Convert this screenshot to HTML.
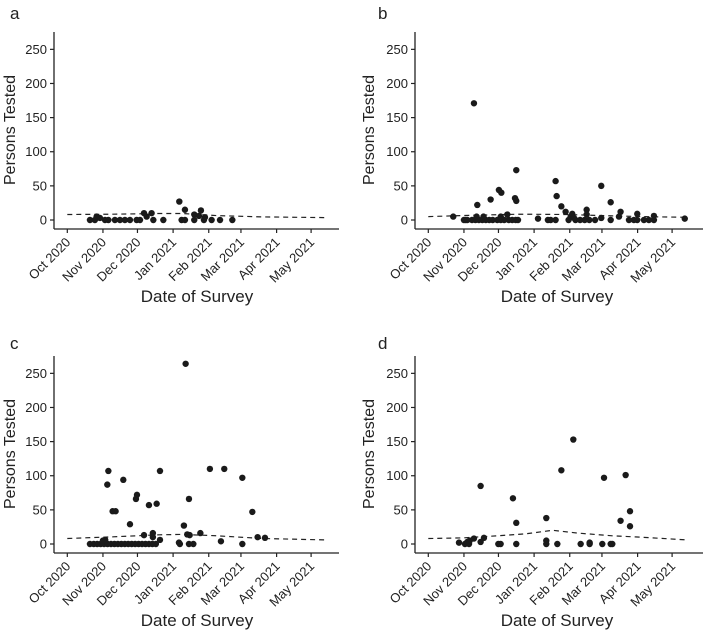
<!DOCTYPE html>
<html><head><meta charset="utf-8"><style>
html,body{margin:0;padding:0;background:#fff;}
svg{display:block;font-family:"Liberation Sans",sans-serif;}
</style></head><body>
<svg id="chart" width="703" height="631" viewBox="0 0 703 631" xmlns="http://www.w3.org/2000/svg"></svg>
<script>
// days since 1 Oct 2020
const monthLabels = ["Oct 2020","Nov 2020","Dec 2020","Jan 2021","Feb 2021","Mar 2021","Apr 2021","May 2021"];
const monthDays = [0,31,61,92,123,151,182,212];
const yTicks = [0,50,100,150,200,250];

const aDays = [19.7,24,25.5,28.4,32.8,35.7,41.4,45.8,50.1,54.5,60.3,63.2,66.7,69,73.3,74.8,83.5,97.4,99.4,102.3,102.3,110.4,110.4,114.5,116.2,118.8,119.7,125.5,132.8,143.5];
const aVals = [0,0,5,3,0,0,0,0,0,0,0,0,10,5,10,0,0,27,0,15,0,8,0,6,14,0,4,0,0,0];
const aTrendDays = [0,40,80,100,130,170,224];
const aTrendVals = [8,8.5,9.5,9.5,6.5,4.5,3.5];

const bDays = [21.7,31,32.5,33.9,39.7,42.6,38,41,44,47,50,53,56,60,63,66,70,73,76,78,42,48,63,68.7,54.2,61.4,63.5,75.4,76.5,76.5,95.4,104,106.4,110.7,110.7,111.6,115.7,119.4,123.8,125.2,126.7,122,128,132,136,140,145,137.7,137.7,150.4,150.4,158.6,158.6,167.2,165.8,174.5,178.8,181.7,181.7,187.5,191.8,196.2,196.2,223];
const bVals = [5,0,0,0,171,22,0,0,0,0,0,0,0,0,0,0,0,0,0,0,5,5,5,8,30,44,40,32,28,73,2,0,0,0,57,35,20,12,5,9,3,0,0,0,0,0,0,15,8,50,3,26,0,12,5,0,0,0,9,0,0,0,6,2];
const bTrendDays = [0,40,80,120,160,200,225];
const bTrendVals = [5,7,8.5,8,6,4.5,4];

const cDays = [19.7,23,26,29,32,35,38,41,44,47,50,53,56,59,62,65,68,71,74,77,31,33,34.8,35.7,39.4,42,48.7,54.5,59.7,60.6,66.7,71,74.4,74.4,77.7,80.6,80.6,97.1,97.9,101.4,102.9,104.3,106.4,105.8,105.8,109.6,115.7,124,133.6,136.5,152.2,152.2,160.9,165.5,171.9];
const cVals = [0,0,0,0,0,0,0,0,0,0,0,0,0,0,0,0,0,0,0,0,5,6,87,107,48,48,94,29,66,72,13,57,16,10,59,107,6,2,0,27,264,14,13,66,0,0,16,110,4,110,97,0,47,10,9];
const cTrendDays = [0,40,80,100,130,170,224];
const cTrendVals = [8,10.5,13.5,14,12,8,6];

const dDays = [26.7,31.9,33.9,35.4,36,39.7,45.5,45.5,48.4,60.9,62.9,73.6,76.5,76.5,102.6,102.6,102.6,112.2,115.7,126.1,132.5,140.3,140.3,151.3,152.8,158.6,160,167.2,171.6,175.4,175.4];
const dVals = [2,0,3,0,5,8,85,3,9,0,0,67,31,0,38,5,0,0,108,153,0,2,0,0,97,0,0,34,101,48,26];
const dTrendDays = [0,30,60,85,108,130,160,185,225];
const dTrendVals = [8,9,12,15,20,16,12,10,6];

const NS = "http://www.w3.org/2000/svg";
const svg = document.getElementById("chart");
function mk(tag, attrs, parent){const e=document.createElementNS(NS,tag);for(const k in attrs)e.setAttribute(k,attrs[k]);(parent||svg).appendChild(e);return e;}

function panel(id, letter, ox, oy, days, vals, tDays, tVals){
  const g = mk("g",{});
  
  
  const axX = 54+ox, xOct = 67.3+ox, y0 = 220+oy, yTop = 32+oy, axY = 229+oy;
  const pxDay = 1.15, pxUnit = 0.6826;
  const sx = d => xOct + d*pxDay;
  const sy = v => y0 - v*pxUnit;
  const lab = mk("text",{x:10+ox+(ox?7:0),y:19+oy+(oy?6:0),"font-size":17,fill:"#222"},g);
  lab.textContent = letter;
  
  
  const ya = mk("line",{x1:axX,y1:yTop,x2:axX,y2:axY,stroke:"#222","stroke-width":1.3},g);
  
  
  const xa = mk("line",{x1:axX,y1:axY,x2:339+ox+(ox?14:0),y2:axY,stroke:"#222","stroke-width":1.3},g);
  
  
  yTicks.forEach(t=>{
    mk("line",{x1:axX-4,y1:sy(t),x2:axX,y2:sy(t),stroke:"#222","stroke-width":1.2},g);
    const tx = mk("text",{x:axX-7,y:sy(t)+4.5,"font-size":13,"text-anchor":"end",fill:"#222"},g);
    tx.textContent = t;
    
    
  });
  monthDays.forEach((d,i)=>{
    const x = sx(d);
    mk("line",{x1:x,y1:axY,x2:x,y2:axY+4,stroke:"#222","stroke-width":1.2},g);
    const tx = mk("text",{x:x+4,y:axY+14,"font-size":13,"text-anchor":"end",fill:"#222",transform:`rotate(-45 ${x+4} ${axY+14})`},g);
    tx.textContent = monthLabels[i];
    
    
  });
  const ytx = ox ? 369+ox-361+5 : 15;
  const yt = mk("text",{x:0,y:0,"font-size":16,"text-anchor":"middle",fill:"#222",transform:`translate(${ytx} ${130+oy}) rotate(-90)`},g);
  yt.textContent = "Persons Tested";
  
  
  const xt = mk("text",{x:ox?557:197,y:axY+73,"font-size":17,"text-anchor":"middle",fill:"#222"},g);
  xt.textContent = "Date of Survey";
  
  
  const tr = mk("path",{d:tDays.map((d,i)=>(i?"L":"M")+sx(d).toFixed(1)+" "+sy(tVals[i]).toFixed(1)).join(" "),fill:"none",stroke:"#222","stroke-width":1.2,"stroke-dasharray":"5 4"},g);
  
  
  days.forEach((d,i)=>{
    const c = mk("circle",{cx:sx(d),cy:sy(vals[i]),r:3.2,fill:"#1a1a1a"},g);
    
    
  });
}
panel("a","a",0,0,aDays,aVals,aTrendDays,aTrendVals);
panel("b","b",361,0,bDays,bVals,bTrendDays,bTrendVals);
panel("c","c",0,324,cDays,cVals,cTrendDays,cTrendVals);
panel("d","d",361,324,dDays,dVals,dTrendDays,dTrendVals);
</script>
</body></html>
